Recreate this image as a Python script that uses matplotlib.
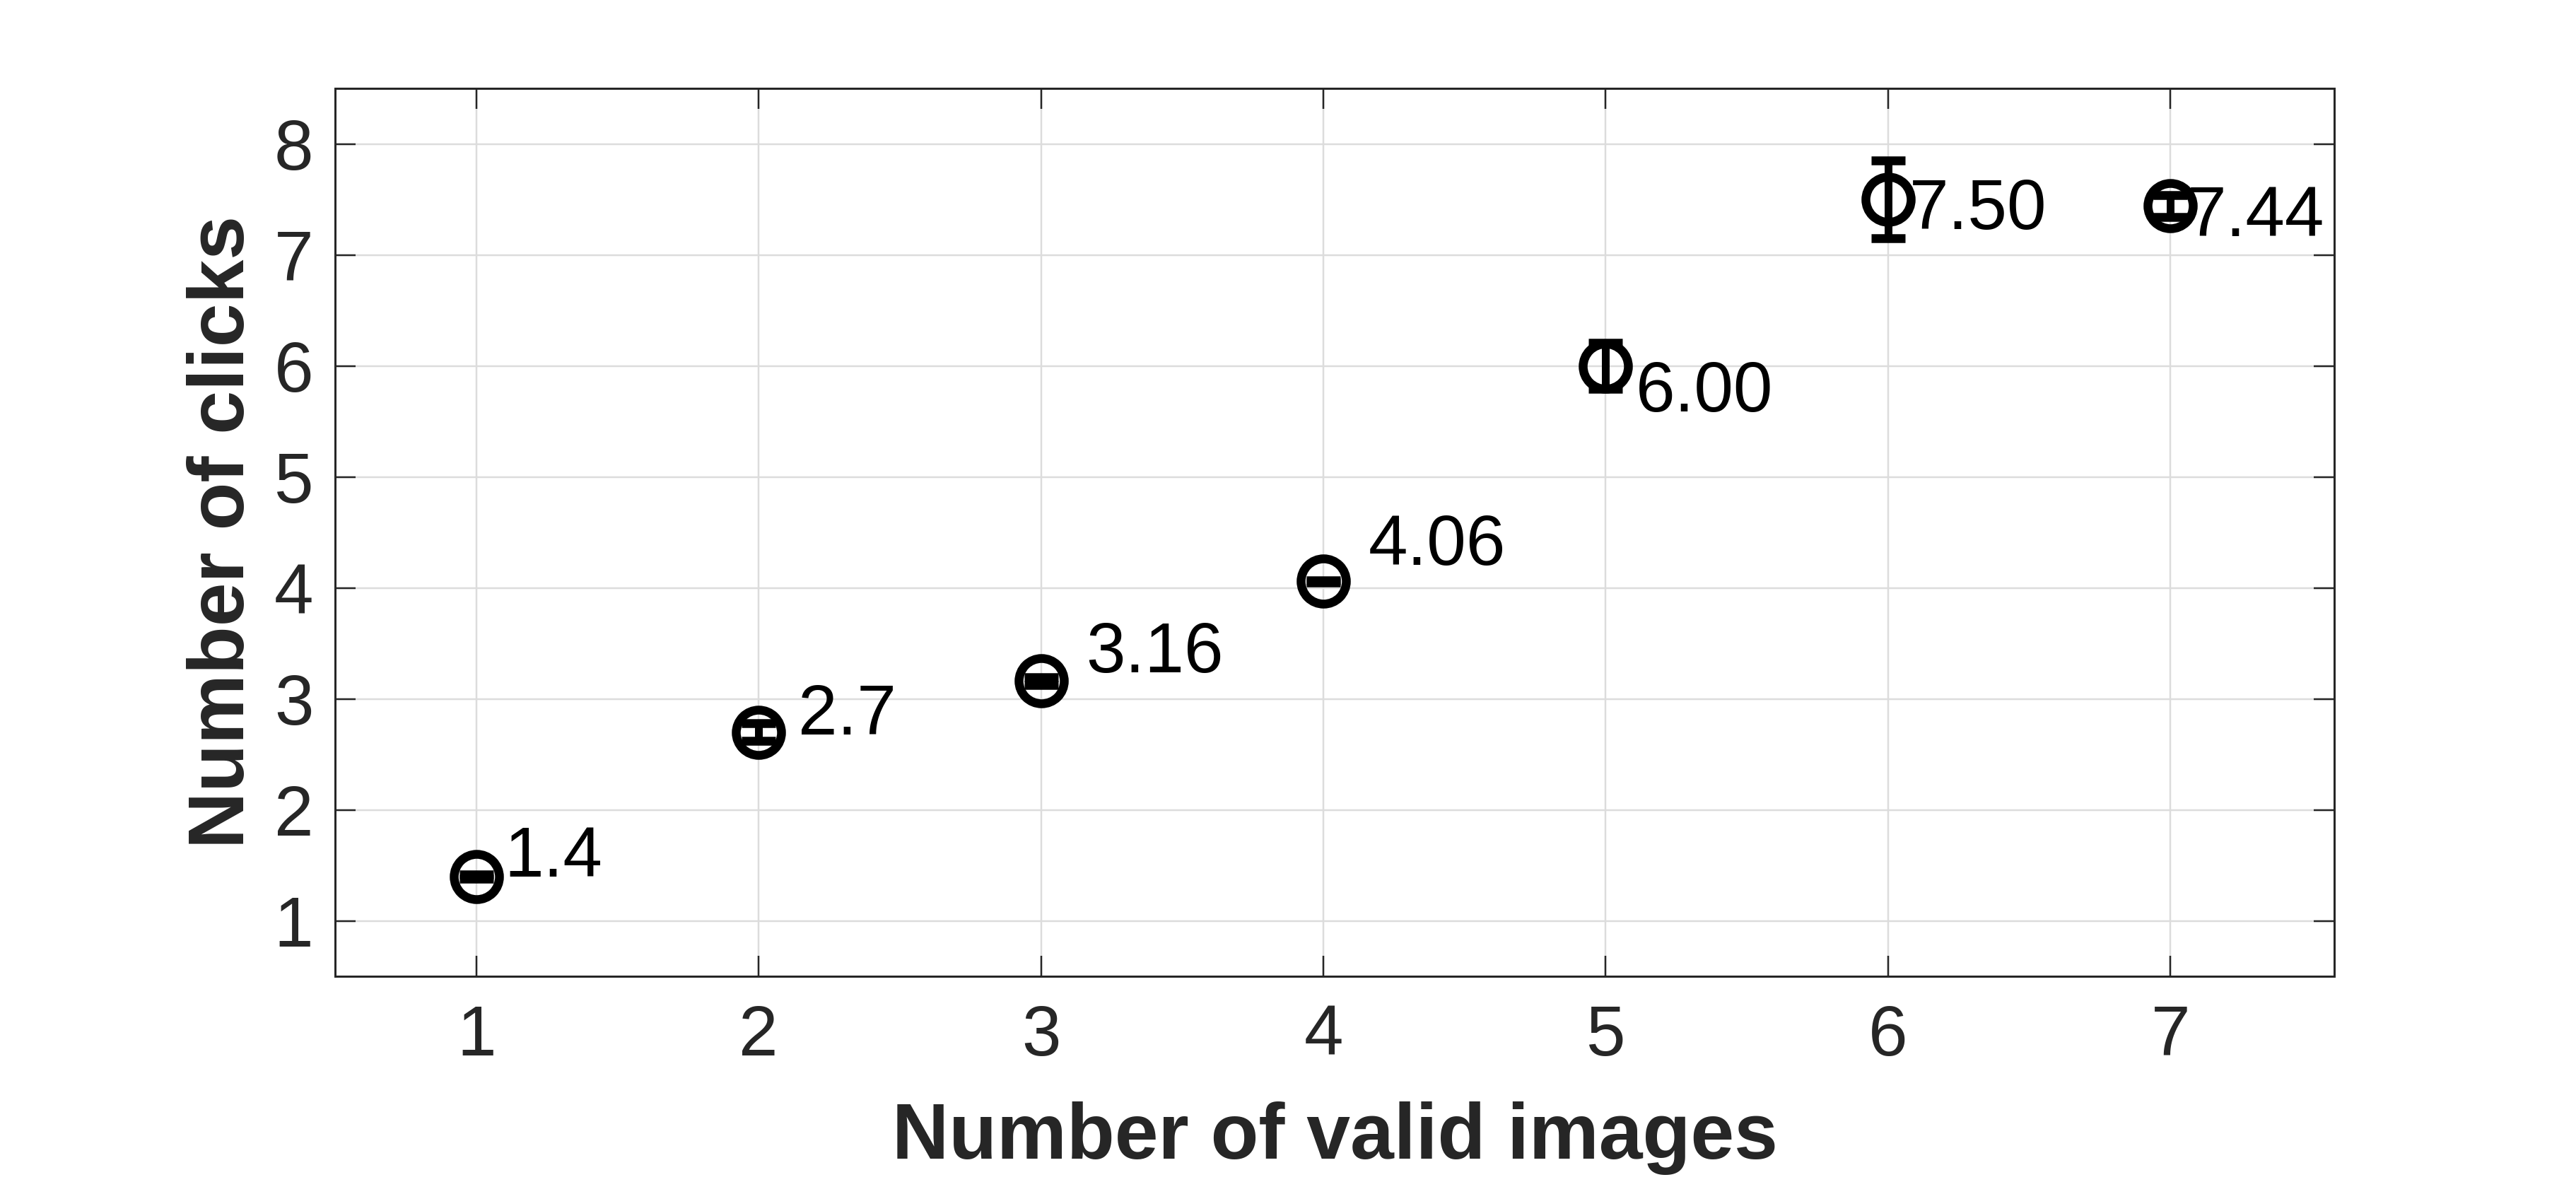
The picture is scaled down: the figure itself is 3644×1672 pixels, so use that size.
import matplotlib
matplotlib.use("Agg")
import matplotlib.pyplot as plt

# ---- data ----
n_images = [1, 2, 3, 4, 5, 6, 7]
mean_clicks = [1.40, 2.70, 3.16, 4.06, 6.00, 7.50, 7.44]
err_clicks = [0.02, 0.08, 0.035, 0.01, 0.21, 0.35, 0.10]
value_labels = ["1.4", "2.7", "3.16", "4.06", "6.00", "7.50", "7.44"]
x_ticks = [1, 2, 3, 4, 5, 6, 7]
y_ticks = [1, 2, 3, 4, 5, 6, 7, 8]

# label placement offsets (data units)
label_dx = [0.10, 0.14, 0.16, 0.16, 0.105, 0.075, 0.06]
label_dy = [0.0, -0.02, 0.076, 0.15, -0.41, -0.27, -0.27]

plt.rcParams['font.family'] = ['Liberation Sans', 'DejaVu Sans']

DPI = 200
fig = plt.figure(figsize=(3644 / DPI, 1672 / DPI), dpi=DPI)
ax = fig.add_axes([474 / 3644, 1 - 1381 / 1672, (3302 - 474) / 3644, (1381 - 125) / 1672])

px = 72 / DPI  # points per pixel

ax.errorbar(n_images, mean_clicks, yerr=err_clicks, fmt='o', color='black',
            markerfacecolor='none', markeredgecolor='black',
            markersize=64 * px, markeredgewidth=12.5 * px,
            elinewidth=11 * px, capsize=24 * px, capthick=12 * px, zorder=3)

for xi, yi, lab, dx, dy in zip(n_images, mean_clicks, value_labels, label_dx, label_dy):
    ax.text(xi + dx, yi + dy, lab, fontsize=36, color='black',
            ha='left', va='baseline', zorder=4)

ax.set_xlim(0.5, 7.58)
ax.set_ylim(0.5, 8.5)
ax.set_xticks(x_ticks)
ax.set_yticks(y_ticks)

ax.grid(True, color='#dcdcdc', linewidth=2.5 * px, zorder=0)
ax.set_axisbelow(True)

for s in ax.spines.values():
    s.set_color('#262626')
    s.set_linewidth(3 * px)

ax.tick_params(axis='both', direction='in', length=29 * px, width=2.5 * px,
               color='#262626', labelcolor='#262626', labelsize=36,
               top=True, right=True)
ax.tick_params(axis='x', pad=14)
ax.tick_params(axis='y', pad=11)

ax.set_xlabel('Number of valid images', fontsize=40, fontweight='bold',
              color='#262626', labelpad=16)
ax.set_ylabel('Number of clicks', fontsize=40, fontweight='bold',
              color='#262626', labelpad=7)

fig.savefig('out.png', dpi=DPI, facecolor='white')
